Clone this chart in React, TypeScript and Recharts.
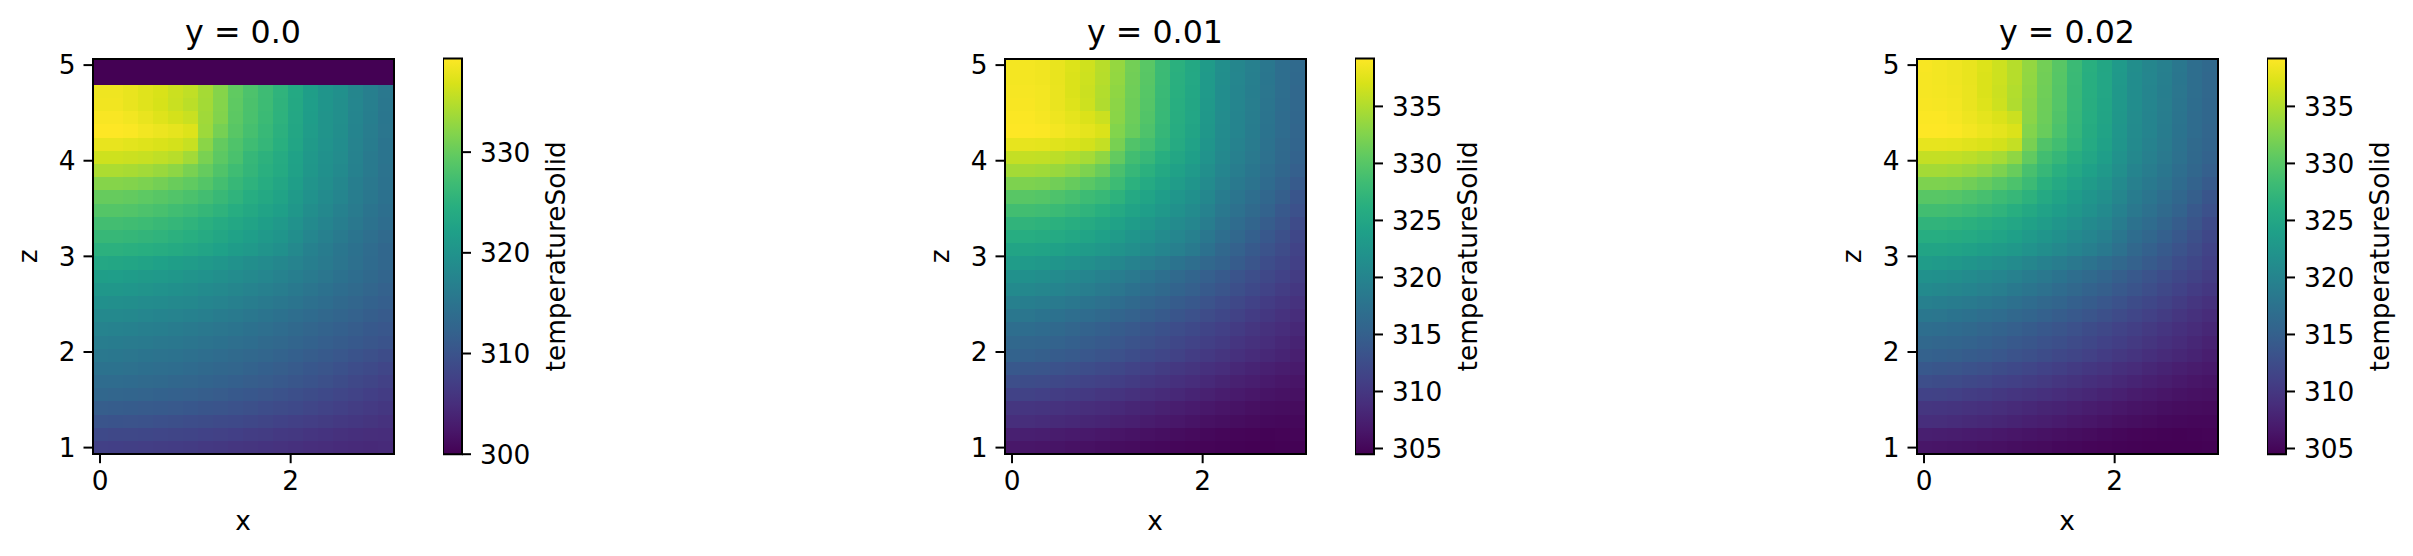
import React from 'react'
import { Bar, BarChart, Scatter, ScatterChart, XAxis, YAxis } from 'recharts'

const xValues = [0, 0.158, 0.316, 0.474, 0.632, 0.789, 0.947, 1.105, 1.263, 1.421, 1.579, 1.737, 1.895, 2.053, 2.211, 2.368, 2.526, 2.684, 2.842, 3]
const zValues = [5, 4.862, 4.724, 4.586, 4.448, 4.31, 4.172, 4.034, 3.897, 3.759, 3.621, 3.483, 3.345, 3.207, 3.069, 2.931, 2.793, 2.655, 2.517, 2.379, 2.241, 2.103, 1.966, 1.828, 1.69, 1.552, 1.414, 1.276, 1.138, 1]
const xTicks = [0, 2]
const zTicks = [1, 2, 3, 4, 5]

const ticksY0 = [300, 310, 320, 330]
const ticksOther = [305, 310, 315, 320, 325, 330, 335]

// rows run from the top of the plot (z = 5) down to z = 1
const temperatureY0 = [
  [300, 300, 300, 300, 300, 300, 300, 300, 300, 300, 300, 300, 300, 300, 300, 300, 300, 300, 300, 300],
  [300, 300, 300, 300, 300, 300, 300, 300, 300, 300, 300, 300, 300, 300, 300, 300, 300, 300, 300, 300],
  [338.4, 338.4, 338.0, 337.4, 336.9, 336.1, 335.5, 333.9, 332.0, 329.6, 328.1, 326.9, 325.4, 323.6, 321.8, 320.3, 319.5, 317.9, 316.8, 315.6],
  [338.5, 338.5, 338.0, 337.4, 336.8, 336.0, 335.2, 333.8, 331.9, 329.5, 328.0, 326.8, 325.3, 323.5, 321.7, 320.3, 319.4, 317.8, 316.7, 315.5],
  [339.0, 339.0, 338.6, 338.0, 337.3, 336.6, 336.0, 333.6, 331.8, 329.3, 327.9, 326.6, 325.2, 323.4, 321.6, 320.2, 319.3, 317.7, 316.6, 315.4],
  [339.3, 339.3, 339.1, 338.6, 338.2, 337.8, 337.2, 333.4, 331.0, 329.0, 327.6, 326.3, 325.0, 323.2, 321.4, 320.1, 319.2, 317.6, 316.5, 315.3],
  [337.9, 337.9, 337.6, 337.3, 337.0, 336.6, 335.9, 332.3, 329.8, 328.3, 327.0, 325.9, 324.7, 323.0, 321.2, 319.9, 319.0, 317.4, 316.3, 315.1],
  [336.3, 336.3, 336.1, 335.9, 335.5, 335.0, 333.7, 331.2, 329.3, 327.9, 326.1, 325.1, 324.0, 322.4, 320.8, 319.6, 318.8, 317.2, 316.0, 315.0],
  [334.3, 334.3, 334.1, 333.7, 333.2, 332.5, 331.2, 329.9, 328.4, 327.0, 325.8, 324.8, 323.8, 322.3, 320.7, 319.5, 318.5, 317.0, 315.9, 314.9],
  [332.0, 332.0, 331.8, 331.4, 330.9, 330.2, 329.6, 328.7, 327.4, 326.2, 325.2, 324.2, 323.2, 321.8, 320.2, 319.1, 318.0, 316.6, 315.6, 314.8],
  [330.0, 330.0, 329.8, 329.4, 329.0, 328.5, 328.0, 327.3, 326.4, 325.4, 324.4, 323.5, 322.6, 321.2, 319.8, 318.7, 317.7, 316.5, 315.5, 314.6],
  [328.7, 328.7, 328.5, 328.1, 327.7, 327.2, 326.7, 326.0, 325.3, 324.4, 323.5, 322.7, 321.9, 320.6, 319.2, 318.1, 317.1, 316.1, 315.1, 314.3],
  [327.3, 327.3, 327.1, 326.8, 326.4, 325.9, 325.4, 324.8, 324.1, 323.3, 322.6, 321.8, 321.0, 319.8, 318.5, 317.5, 316.6, 315.6, 314.7, 313.9],
  [326.2, 326.2, 326.0, 325.7, 325.4, 325.0, 324.5, 323.9, 323.2, 322.5, 321.7, 321.0, 320.3, 319.1, 317.8, 316.9, 316.0, 315.1, 314.2, 313.4],
  [325.0, 325.0, 324.8, 324.5, 324.2, 323.8, 323.4, 322.8, 322.2, 321.5, 320.9, 320.2, 319.5, 318.4, 317.1, 316.2, 315.4, 314.6, 313.7, 312.9],
  [323.4, 323.2, 322.9, 322.6, 322.2, 321.8, 321.4, 320.9, 320.4, 319.8, 319.2, 318.6, 318.0, 317.3, 316.6, 315.9, 315.2, 314.4, 313.6, 312.9],
  [321.8, 321.7, 321.5, 321.2, 320.9, 320.6, 320.2, 319.8, 319.3, 318.8, 318.3, 317.8, 317.2, 316.6, 316.0, 315.3, 314.6, 313.9, 313.3, 312.6],
  [320.7, 320.6, 320.4, 320.1, 319.8, 319.5, 319.1, 318.7, 318.3, 317.9, 317.4, 316.9, 316.4, 315.8, 315.2, 314.6, 314.0, 313.4, 312.7, 312.1],
  [319.5, 319.4, 319.2, 318.9, 318.7, 318.4, 318.1, 317.7, 317.3, 316.9, 316.5, 316.0, 315.5, 315.0, 314.4, 313.9, 313.3, 312.8, 312.2, 311.7],
  [318.4, 318.3, 318.1, 317.8, 317.6, 317.3, 317.0, 316.7, 316.3, 315.9, 315.5, 315.1, 314.6, 314.1, 313.6, 313.1, 312.6, 312.1, 311.6, 311.1],
  [317.3, 317.2, 317.0, 316.8, 316.6, 316.3, 316.0, 315.7, 315.3, 315.0, 314.6, 314.2, 313.7, 313.3, 312.8, 312.3, 311.9, 311.4, 310.9, 310.5],
  [316.4, 316.3, 316.1, 315.9, 315.7, 315.5, 315.2, 314.9, 314.6, 314.2, 313.9, 313.5, 313.1, 312.6, 312.2, 311.7, 311.3, 310.9, 310.4, 310.0],
  [315.6, 315.5, 315.3, 315.1, 314.9, 314.7, 314.4, 314.1, 313.8, 313.5, 313.1, 312.7, 312.3, 311.9, 311.4, 311.0, 310.5, 310.0, 309.5, 309.0],
  [314.8, 314.7, 314.5, 314.3, 314.1, 313.9, 313.6, 313.3, 313.0, 312.7, 312.3, 311.9, 311.5, 311.1, 310.6, 310.2, 309.7, 309.2, 308.7, 308.2],
  [313.8, 313.7, 313.6, 313.4, 313.2, 313.0, 312.8, 312.5, 312.2, 311.9, 311.5, 311.2, 310.8, 310.4, 310.0, 309.5, 309.0, 308.5, 308.0, 307.5],
  [312.9, 312.8, 312.6, 312.4, 312.2, 312.0, 311.8, 311.5, 311.2, 310.9, 310.6, 310.2, 309.8, 309.4, 309.0, 308.6, 308.2, 307.8, 307.3, 306.9],
  [311.5, 311.4, 311.3, 311.1, 311.0, 310.8, 310.6, 310.3, 310.1, 309.8, 309.5, 309.2, 308.9, 308.6, 308.2, 307.8, 307.4, 307.0, 306.6, 306.2],
  [310.1, 310.0, 309.9, 309.8, 309.6, 309.4, 309.2, 309.0, 308.8, 308.6, 308.3, 308.0, 307.7, 307.4, 307.1, 306.8, 306.5, 306.2, 305.9, 305.6],
  [308.6, 308.5, 308.4, 308.3, 308.2, 308.1, 307.9, 307.7, 307.5, 307.3, 307.0, 306.8, 306.5, 306.3, 306.0, 305.7, 305.4, 305.2, 305.0, 304.9],
  [307.4, 307.3, 307.2, 307.1, 307.0, 306.9, 306.7, 306.5, 306.3, 306.1, 305.9, 305.7, 305.5, 305.3, 305.1, 304.9, 304.7, 304.6, 304.5, 304.6],
]

const temperatureY1 = [
  [338.7, 338.7, 338.5, 338.0, 337.3, 336.6, 335.4, 333.6, 331.7, 330.2, 328.1, 326.5, 325.3, 323.3, 321.5, 320.3, 319.4, 318.2, 317.0, 316.3],
  [338.7, 338.7, 338.5, 338.0, 337.2, 336.5, 335.3, 333.5, 331.6, 330.1, 328.0, 326.4, 325.2, 323.2, 321.4, 320.2, 319.3, 318.1, 316.9, 316.2],
  [338.8, 338.8, 338.6, 338.1, 337.2, 336.4, 335.1, 333.3, 331.5, 330.0, 327.9, 326.3, 325.1, 323.1, 321.3, 320.1, 319.2, 318.0, 316.9, 316.1],
  [338.9, 338.9, 338.6, 338.1, 337.4, 336.5, 335.0, 333.1, 331.4, 329.9, 327.8, 326.2, 325.0, 323.0, 321.2, 320.1, 319.1, 317.9, 316.8, 316.0],
  [339.1, 339.1, 338.8, 338.3, 337.8, 337.2, 336.4, 333.0, 331.3, 329.7, 327.7, 326.1, 324.9, 322.9, 321.1, 320.0, 319.0, 317.8, 316.7, 315.9],
  [339.2, 339.2, 339.1, 338.7, 338.2, 337.8, 337.2, 332.6, 331.1, 329.4, 327.5, 325.9, 324.7, 322.7, 321.0, 319.9, 318.9, 317.7, 316.6, 315.8],
  [337.9, 337.9, 337.8, 337.5, 337.2, 336.8, 336.0, 332.0, 329.6, 328.7, 327.1, 325.6, 324.4, 322.5, 320.8, 319.7, 318.7, 317.5, 316.4, 315.6],
  [336.0, 336.0, 335.9, 335.6, 335.1, 334.5, 333.3, 330.8, 328.6, 327.6, 326.2, 325.0, 323.9, 322.1, 320.5, 319.4, 318.4, 317.3, 316.2, 315.3],
  [334.4, 334.4, 334.2, 333.8, 333.2, 332.3, 331.2, 329.1, 327.6, 326.5, 325.3, 324.2, 323.2, 321.6, 320.1, 319.0, 318.1, 316.9, 315.9, 314.9],
  [332.3, 332.3, 332.1, 331.6, 331.0, 330.2, 329.4, 328.2, 326.6, 325.5, 324.5, 323.4, 322.4, 321.0, 319.5, 318.5, 317.6, 316.5, 315.4, 314.3],
  [330.1, 330.1, 329.9, 329.4, 328.9, 328.2, 327.7, 326.8, 325.4, 324.6, 323.6, 322.6, 321.7, 320.4, 318.9, 317.9, 317.0, 315.9, 314.8, 313.6],
  [328.6, 328.6, 328.4, 328.0, 327.5, 326.9, 326.3, 325.4, 324.5, 323.7, 322.8, 321.9, 321.0, 319.7, 318.3, 317.3, 316.4, 315.3, 314.1, 313.0],
  [327.0, 327.0, 326.8, 326.5, 326.1, 325.6, 325.0, 324.3, 323.5, 322.7, 321.9, 321.0, 320.2, 319.0, 317.6, 316.7, 315.7, 314.6, 313.5, 312.3],
  [326.0, 326.0, 325.8, 325.5, 325.1, 324.6, 324.0, 323.3, 322.5, 321.8, 321.0, 320.2, 319.4, 318.2, 316.9, 316.0, 315.0, 314.0, 312.9, 311.8],
  [324.7, 324.7, 324.5, 324.2, 323.8, 323.3, 322.8, 322.2, 321.5, 320.8, 320.1, 319.4, 318.6, 317.4, 316.1, 315.2, 314.2, 313.3, 312.4, 311.4],
  [323.4, 323.2, 322.9, 322.5, 322.0, 321.5, 321.0, 320.4, 319.7, 319.1, 318.4, 317.7, 316.9, 316.1, 315.3, 314.4, 313.5, 312.6, 311.8, 311.0],
  [321.9, 321.7, 321.4, 321.0, 320.6, 320.1, 319.6, 319.0, 318.4, 317.8, 317.1, 316.4, 315.7, 314.9, 314.2, 313.4, 312.7, 312.0, 311.3, 310.5],
  [320.8, 320.6, 320.3, 319.9, 319.5, 319.1, 318.6, 318.0, 317.4, 316.8, 316.2, 315.5, 314.9, 314.2, 313.5, 312.8, 312.1, 311.4, 310.7, 310.0],
  [319.4, 319.2, 318.9, 318.6, 318.2, 317.8, 317.3, 316.8, 316.2, 315.7, 315.1, 314.5, 313.9, 313.3, 312.6, 312.0, 311.3, 310.6, 310.0, 309.4],
  [318.2, 318.0, 317.7, 317.4, 317.0, 316.6, 316.2, 315.7, 315.2, 314.7, 314.2, 313.6, 313.0, 312.4, 311.8, 311.2, 310.6, 310.0, 309.4, 308.8],
  [317.0, 316.8, 316.5, 316.2, 315.8, 315.4, 315.0, 314.5, 314.1, 313.6, 313.1, 312.6, 312.1, 311.5, 311.0, 310.4, 309.9, 309.3, 308.8, 308.3],
  [316.0, 315.8, 315.6, 315.3, 315.0, 314.6, 314.2, 313.8, 313.3, 312.9, 312.4, 311.9, 311.4, 310.9, 310.4, 309.8, 309.3, 308.8, 308.3, 307.8],
  [315.3, 315.1, 314.8, 314.5, 314.2, 313.8, 313.4, 313.0, 312.6, 312.1, 311.7, 311.2, 310.7, 310.2, 309.7, 309.2, 308.7, 308.3, 307.9, 307.4],
  [313.9, 313.7, 313.5, 313.2, 312.9, 312.6, 312.2, 311.8, 311.4, 311.0, 310.5, 310.1, 309.7, 309.2, 308.8, 308.3, 307.9, 307.5, 307.2, 306.9],
  [312.7, 312.5, 312.3, 312.0, 311.7, 311.4, 311.1, 310.8, 310.4, 310.0, 309.6, 309.2, 308.8, 308.4, 308.0, 307.6, 307.3, 306.9, 306.6, 306.4],
  [311.3, 311.2, 311.0, 310.7, 310.4, 310.2, 309.9, 309.6, 309.3, 308.9, 308.6, 308.3, 307.9, 307.6, 307.2, 306.9, 306.6, 306.3, 306.1, 306.0],
  [309.9, 309.8, 309.6, 309.4, 309.2, 308.9, 308.7, 308.4, 308.1, 307.9, 307.6, 307.3, 307.0, 306.7, 306.4, 306.2, 305.9, 305.7, 305.6, 305.5],
  [309.0, 308.9, 308.7, 308.5, 308.3, 308.1, 307.9, 307.6, 307.4, 307.1, 306.8, 306.6, 306.3, 306.0, 305.8, 305.6, 305.4, 305.3, 305.2, 305.2],
  [307.5, 307.4, 307.3, 307.1, 306.9, 306.8, 306.6, 306.4, 306.2, 306.0, 305.8, 305.6, 305.4, 305.2, 305.0, 304.9, 304.8, 304.7, 304.8, 304.9],
  [306.6, 306.5, 306.4, 306.3, 306.1, 306.0, 305.8, 305.6, 305.5, 305.3, 305.2, 305.0, 304.9, 304.8, 304.7, 304.6, 304.5, 304.5, 304.6, 304.6],
]

const temperatureY2 = [
  [338.9, 338.6, 338.4, 338.0, 337.3, 336.5, 335.3, 333.5, 331.7, 330.1, 328.0, 326.3, 325.0, 323.1, 321.4, 320.3, 319.4, 318.2, 317.0, 316.2],
  [338.8, 338.6, 338.4, 338.0, 337.2, 336.5, 335.3, 333.4, 331.6, 330.0, 327.9, 326.2, 324.9, 323.0, 321.3, 320.2, 319.3, 318.1, 316.9, 316.1],
  [338.8, 338.7, 338.5, 338.1, 337.2, 336.4, 335.1, 333.3, 331.5, 329.9, 327.8, 326.2, 324.9, 322.9, 321.3, 320.1, 319.2, 318.0, 316.9, 316.0],
  [338.9, 338.8, 338.6, 338.1, 337.4, 336.5, 335.0, 333.1, 331.4, 329.8, 327.7, 326.1, 324.8, 322.8, 321.2, 320.1, 319.1, 317.9, 316.8, 315.9],
  [339.1, 339.1, 338.8, 338.3, 337.8, 337.2, 336.4, 333.0, 331.3, 329.6, 327.6, 326.0, 324.7, 322.7, 321.1, 320.0, 319.0, 317.8, 316.7, 315.9],
  [339.2, 339.2, 339.1, 338.7, 338.2, 337.8, 337.2, 332.6, 331.1, 329.3, 327.4, 325.8, 324.5, 322.6, 321.0, 319.9, 318.9, 317.7, 316.6, 315.8],
  [337.9, 337.9, 337.8, 337.5, 337.2, 336.8, 336.0, 332.0, 329.6, 328.6, 327.0, 325.5, 324.2, 322.4, 320.8, 319.7, 318.7, 317.5, 316.4, 315.6],
  [336.0, 336.0, 335.9, 335.6, 335.1, 334.5, 333.3, 330.7, 328.6, 327.5, 326.1, 324.9, 323.7, 322.0, 320.5, 319.4, 318.4, 317.3, 316.2, 315.3],
  [334.4, 334.4, 334.2, 333.8, 333.2, 332.3, 331.1, 329.0, 327.6, 326.4, 325.2, 324.1, 323.0, 321.5, 320.0, 319.0, 318.1, 316.9, 315.9, 314.9],
  [332.3, 332.3, 332.1, 331.6, 331.0, 330.2, 329.3, 328.1, 326.5, 325.4, 324.4, 323.3, 322.3, 320.9, 319.4, 318.5, 317.6, 316.5, 315.4, 314.3],
  [330.1, 330.1, 329.9, 329.4, 328.9, 328.2, 327.6, 326.7, 325.4, 324.5, 323.5, 322.5, 321.6, 320.3, 318.9, 317.9, 317.0, 315.9, 314.8, 313.6],
  [328.6, 328.6, 328.4, 328.0, 327.5, 326.9, 326.2, 325.3, 324.4, 323.6, 322.7, 321.8, 320.9, 319.6, 318.3, 317.3, 316.4, 315.3, 314.1, 313.0],
  [327.0, 327.0, 326.8, 326.5, 326.1, 325.5, 324.9, 324.2, 323.4, 322.6, 321.8, 320.9, 320.1, 318.9, 317.5, 316.6, 315.7, 314.6, 313.5, 312.3],
  [326.0, 326.0, 325.8, 325.5, 325.1, 324.6, 324.0, 323.2, 322.4, 321.7, 320.9, 320.1, 319.3, 318.1, 316.8, 315.9, 315.0, 314.0, 312.9, 311.8],
  [324.7, 324.7, 324.5, 324.2, 323.8, 323.3, 322.8, 322.1, 321.4, 320.7, 320.0, 319.3, 318.5, 317.3, 316.0, 315.1, 314.2, 313.3, 312.4, 311.4],
  [323.4, 323.2, 322.9, 322.5, 322.0, 321.5, 321.0, 320.3, 319.6, 319.0, 318.3, 317.6, 316.8, 316.0, 315.2, 314.3, 313.5, 312.6, 311.8, 311.0],
  [321.9, 321.7, 321.4, 321.0, 320.6, 320.1, 319.5, 318.9, 318.3, 317.7, 317.0, 316.3, 315.6, 314.8, 314.1, 313.3, 312.6, 311.9, 311.2, 310.5],
  [320.8, 320.6, 320.3, 319.9, 319.5, 319.1, 318.5, 317.9, 317.3, 316.7, 316.1, 315.4, 314.8, 314.1, 313.4, 312.7, 312.0, 311.3, 310.6, 310.0],
  [319.4, 319.2, 318.9, 318.6, 318.2, 317.8, 317.2, 316.7, 316.1, 315.6, 315.0, 314.4, 313.8, 313.2, 312.5, 311.9, 311.2, 310.5, 309.9, 309.3],
  [318.2, 318.0, 317.7, 317.4, 317.0, 316.6, 316.1, 315.6, 315.1, 314.6, 314.1, 313.5, 312.9, 312.3, 311.7, 311.1, 310.5, 309.9, 309.3, 308.7],
  [317.0, 316.8, 316.5, 316.2, 315.8, 315.4, 314.9, 314.4, 314.0, 313.5, 313.0, 312.5, 312.0, 311.4, 310.9, 310.3, 309.8, 309.2, 308.7, 308.2],
  [316.0, 315.8, 315.6, 315.3, 315.0, 314.6, 314.1, 313.7, 313.2, 312.8, 312.3, 311.8, 311.3, 310.8, 310.3, 309.7, 309.2, 308.7, 308.2, 307.7],
  [315.2, 315.0, 314.8, 314.5, 314.2, 313.8, 313.3, 312.9, 312.5, 312.0, 311.6, 311.1, 310.6, 310.1, 309.6, 309.1, 308.6, 308.2, 307.8, 307.3],
  [313.9, 313.7, 313.5, 313.2, 312.9, 312.5, 312.1, 311.7, 311.3, 310.9, 310.4, 310.0, 309.6, 309.1, 308.7, 308.2, 307.8, 307.4, 307.1, 306.8],
  [312.7, 312.5, 312.3, 312.0, 311.7, 311.3, 311.0, 310.7, 310.3, 309.9, 309.5, 309.1, 308.7, 308.3, 307.9, 307.5, 307.2, 306.8, 306.5, 306.3],
  [311.3, 311.2, 311.0, 310.7, 310.4, 310.1, 309.8, 309.5, 309.2, 308.8, 308.5, 308.2, 307.8, 307.5, 307.1, 306.8, 306.5, 306.2, 306.0, 305.9],
  [309.9, 309.8, 309.6, 309.4, 309.2, 308.9, 308.6, 308.3, 308.0, 307.8, 307.5, 307.2, 306.9, 306.6, 306.3, 306.1, 305.8, 305.6, 305.5, 305.4],
  [309.0, 308.9, 308.7, 308.5, 308.3, 308.1, 307.8, 307.5, 307.3, 307.0, 306.7, 306.5, 306.2, 305.9, 305.7, 305.5, 305.3, 305.2, 305.1, 305.1],
  [307.4, 307.3, 307.2, 307.0, 306.9, 306.7, 306.5, 306.3, 306.1, 305.9, 305.7, 305.5, 305.3, 305.1, 304.9, 304.8, 304.7, 304.6, 304.7, 304.8],
  [306.5, 306.4, 306.3, 306.2, 306.0, 305.9, 305.7, 305.5, 305.4, 305.2, 305.1, 304.9, 304.8, 304.7, 304.6, 304.5, 304.5, 304.5, 304.5, 304.6],
]

const viridis = ['#440154', '#48186a', '#472d7b', '#424086', '#3b528b', '#33638d', '#2c728e', '#26828e', '#21918c', '#1fa088', '#28ae80', '#3fbc73', '#5ec962', '#84d44b', '#addc30', '#d8e219', '#fde725']

const FONT = '"DejaVu Sans", sans-serif'
const TOP = 58.5
const PLOT_W = 301
const PLOT_H = 395.7
const AXIS_W = 92.5
const BOTTOM = 556 - TOP - PLOT_H
const CELL_W = PLOT_W / xValues.length
const CELL_H = PLOT_H / zValues.length
const CBAR_GAP = 350.5
const CBAR_W = 19
const tickStyle = { fontSize: 26.4, fill: '#000', fontFamily: FONT }
const labelStyle = { ...tickStyle, textAnchor: 'middle' as const }
const tickLine = { stroke: '#000', strokeWidth: 2 }

const hexToRgb = (h: string) => [1, 3, 5].map((i) => parseInt(h.slice(i, i + 2), 16))

const colorFor = (t: number, lo: number, hi: number) => {
  const p = (Math.min(hi, Math.max(lo, t)) - lo) / (hi - lo) * (viridis.length - 1)
  const i = Math.min(Math.floor(p), viridis.length - 2)
  const a = hexToRgb(viridis[i])
  const b = hexToRgb(viridis[i + 1])
  const c = a.map((v, k) => Math.round(v + (b[k] - v) * (p - i)))
  return `rgb(${c[0]},${c[1]},${c[2]})`
}

const toCells = (rows: number[][]) =>
  rows.flatMap((row, i) => row.map((t, j) => ({ x: xValues[j], z: zValues[i], t })))

interface PanelProps {
  id: string
  title: string
  plotLeft: number
  rows: number[][]
  lo: number
  hi: number
  ticks: number[]
}

const Panel = ({ id, title, plotLeft, rows, lo, hi, ticks }: PanelProps) => {
  const cells = toCells(rows)
  return (
    <>
      <div style={{ position: 'absolute', left: plotLeft, width: PLOT_W, top: 17, textAlign: 'center', fontFamily: FONT, fontSize: 31.7, lineHeight: '30px', color: '#000' }}>
        {title}
      </div>
      <div style={{ position: 'absolute', left: plotLeft - AXIS_W, top: 0 }}>
        <ScatterChart width={AXIS_W + PLOT_W + 2} height={556} margin={{ top: TOP, right: 2, bottom: 0, left: 0 }}>
          <XAxis
            type="number"
            dataKey="x"
            domain={[-0.079, 3.079]}
            ticks={xTicks}
            interval={0}
            height={BOTTOM}
            axisLine={false}
            tickLine={tickLine}
            tickSize={9}
            tickMargin={8}
            tick={tickStyle}
            label={{ value: 'x', position: 'insideBottom', offset: 26, style: labelStyle }}
          />
          <YAxis
            type="number"
            dataKey="z"
            domain={[0.931, 5.069]}
            ticks={zTicks}
            interval={0}
            width={AXIS_W}
            axisLine={false}
            tickLine={tickLine}
            tickSize={9}
            tickMargin={8}
            tick={tickStyle}
            label={{ value: 'z', angle: -90, position: 'insideLeft', offset: 28, style: labelStyle }}
          />
          <Scatter
            data={cells}
            isAnimationActive={false}
            shape={(p: any) => (
              <rect
                x={p.cx - CELL_W / 2}
                y={p.cy - CELL_H / 2}
                width={CELL_W + 0.5}
                height={CELL_H + 0.5}
                fill={colorFor(p.payload.t, lo, hi)}
                shapeRendering="crispEdges"
              />
            )}
          />
        </ScatterChart>
      </div>
      {/* axes frame, the cells paint over anything the chart draws behind them */}
      <div style={{ position: 'absolute', left: plotLeft - 1, top: TOP - 1, width: PLOT_W + 2, height: PLOT_H + 2, border: '2px solid #000', boxSizing: 'border-box', pointerEvents: 'none' }} />
      <div style={{ position: 'absolute', left: plotLeft + CBAR_GAP, top: 0 }}>
        <BarChart
          width={CBAR_W + 130}
          height={556}
          data={[{ name: title, range: [lo, hi] }]}
          barCategoryGap={0}
          margin={{ top: TOP, right: 0, bottom: BOTTOM, left: 0 }}
        >
          <defs>
            <linearGradient id={id} x1="0" y1="1" x2="0" y2="0">
              {viridis.map((c, i) => (
                <stop key={c} offset={i / (viridis.length - 1)} stopColor={c} />
              ))}
            </linearGradient>
          </defs>
          <XAxis dataKey="name" hide />
          <YAxis
            orientation="right"
            type="number"
            domain={[lo, hi]}
            ticks={ticks}
            interval={0}
            width={130}
            axisLine={false}
            tickLine={tickLine}
            tickSize={9}
            tickMargin={9}
            tick={tickStyle}
            label={{ value: 'temperatureSolid', angle: -90, position: 'insideRight', offset: 36, style: labelStyle }}
          />
          <Bar dataKey="range" fill={`url(#${id})`} stroke="#000" strokeWidth={2} isAnimationActive={false} />
        </BarChart>
      </div>
    </>
  )
}

export default function App() {
  return (
    <div style={{ position: 'absolute', left: 0, top: 0, width: 2413, height: 556, background: '#fff', overflow: 'hidden' }}>
      <Panel id="cbar0" title="y = 0.0" plotLeft={92.5} rows={temperatureY0} lo={300} hi={339.3} ticks={ticksY0} />
      <Panel id="cbar1" title="y = 0.01" plotLeft={1004.5} rows={temperatureY1} lo={304.5} hi={339.2} ticks={ticksOther} />
      <Panel id="cbar2" title="y = 0.02" plotLeft={1916.5} rows={temperatureY2} lo={304.5} hi={339.2} ticks={ticksOther} />
    </div>
  )
}
